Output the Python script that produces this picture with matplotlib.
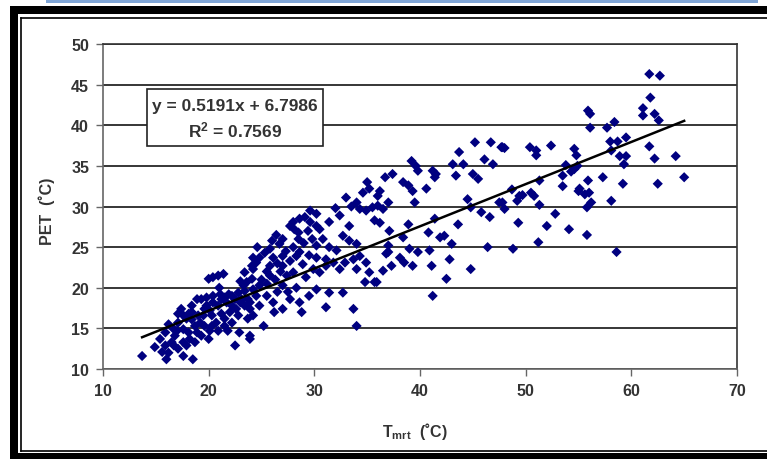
import numpy as np
import matplotlib
matplotlib.use("Agg")
import matplotlib.pyplot as plt
from matplotlib.patches import Rectangle

plt.rcParams['font.family'] = ['Liberation Sans', 'DejaVu Sans']
plt.rcParams['font.weight'] = 'bold'
plt.rcParams['mathtext.fontset'] = 'custom'
plt.rcParams['mathtext.rm'] = 'Liberation Sans:bold'
plt.rcParams['mathtext.it'] = 'Liberation Sans:italic:bold'
plt.rcParams['mathtext.bf'] = 'Liberation Sans:bold'

# Tmrt / PET pairs (deg C)
tmrt = [
    13.7, 14.9, 15.4, 16.0, 16.2, 16.5, 16.8, 17.6, 17.9, 18.5, 18.7, 16.2, 17.1, 17.6, 18.1, 18.4,
    19.0, 19.3, 20.0, 20.1, 19.6, 20.3, 20.7, 21.2, 21.5, 21.8, 22.5, 22.9, 20.0, 20.4, 20.9, 21.4,
    19.3, 19.8, 20.4, 21.1, 21.5, 22.2, 22.6, 23.1, 23.4, 23.7, 23.9, 23.7, 23.9, 23.4, 24.1, 24.2,
    17.6, 17.0, 15.9, 18.4, 18.9, 18.1,
    16.7, 17.1, 17.4, 17.9, 18.4, 18.7, 19.2, 19.5, 19.8, 20.1, 20.4, 20.9, 21.2, 21.7, 21.9, 22.2,
    22.5, 22.8, 23.0, 23.3, 23.6, 24.1, 24.2, 23.4, 22.8, 22.2, 21.5, 20.9, 20.3, 19.6, 18.9, 18.2,
    17.6, 17.1, 16.7, 15.9, 15.6,
    36.8, 35.9,
    29.6, 30.2, 29.1, 28.6, 28.0, 27.7, 28.1, 29.6, 30.2, 30.5, 29.4, 31.4, 32.4, 33.3, 32.7, 33.3,
    34.0, 33.0, 34.0, 34.6, 35.2, 34.3, 34.9, 35.5, 36.0, 25.8, 26.7, 26.1, 27.0, 27.7, 27.0, 28.3,
    28.6, 28.9, 28.0, 27.4, 29.2, 29.9, 30.5, 31.1, 31.1, 31.8, 32.4, 32.9, 32.1, 31.4, 30.2, 30.2,
    33.7, 34.3, 34.0, 34.9, 35.2, 34.8, 27.0, 28.3, 28.6, 30.2, 31.4, 32.7, 31.1, 33.7, 34.0, 25.8,
    24.8, 25.5, 26.1, 27.0, 27.7, 24.8, 24.2, 25.2, 23.9, 24.5, 24.8, 24.2, 23.9, 25.8,
    25.0, 25.5, 26.3, 26.5, 26.8, 27.3, 26.0, 25.3, 24.6, 26.4, 27.0, 28.5, 29.0, 29.5, 28.0, 29.8,
    27.5, 26.2, 28.8, 29.5, 24.5,
    45.2, 46.7, 47.7, 43.7, 39.2, 39.6, 39.8, 41.2, 41.5, 41.4, 43.1, 44.1, 43.4, 45.0, 45.5, 46.1,
    46.9, 36.7, 37.4, 38.4, 38.9, 39.3, 40.6, 36.2, 39.5, 37.0, 36.0, 36.5, 35.7, 36.2, 44.5, 44.8,
    45.8, 46.6, 47.5, 38.9, 37.1, 41.4, 40.8, 43.6, 41.9, 42.3, 43.0, 42.8, 38.4, 37.0, 37.0, 39.0,
    39.8, 40.9, 38.1, 38.5, 39.3, 37.3, 41.1, 36.5, 35.7, 42.5, 44.8, 46.4, 41.2,
    61.7, 62.7, 61.8, 61.1, 61.1, 62.2, 62.6, 55.9, 56.1, 56.1, 57.7, 58.4, 58.0, 58.7, 58.1, 59.5,
    58.9, 59.5, 59.3, 61.7, 62.2, 64.2, 65.0, 62.5, 59.2, 57.3, 55.9, 55.1, 55.6, 56.0, 56.2, 55.8,
    58.1, 58.6, 55.8, 54.1, 52.8, 52.0, 51.2, 49.3, 48.8, 47.8, 48.0, 50.4, 51.0, 51.0, 52.4, 54.6,
    54.8, 53.8, 54.3, 54.6, 53.5, 53.5, 51.3, 54.9, 48.7, 49.4, 49.7, 49.2, 50.5, 50.8, 51.3, 47.8,
    48.0, 55.0,
    21.0, 22.0, 23.0, 25.5, 26.5, 28.5, 30.8, 32.0, 33.5, 35.0,
]
pet = [
    11.6, 12.7, 13.7, 11.2, 12.0, 13.3, 14.1, 11.6, 12.9, 11.2, 13.3, 15.5, 15.7, 14.9, 14.5, 16.1,
    16.6, 14.1, 13.7, 14.7, 17.4, 16.6, 15.7, 16.8, 15.3, 14.7, 12.9, 14.5, 21.1, 21.3, 21.5, 21.7,
    18.6, 18.8, 19.0, 19.2, 18.8, 17.8, 17.4, 18.6, 19.6, 18.6, 17.4, 16.2, 14.1, 21.9, 22.7, 23.7,
    16.6, 14.7, 14.5, 17.8, 18.6, 16.8,
    14.9, 16.8, 17.4, 16.2, 17.0, 15.3, 15.7, 16.6, 17.8, 17.2, 18.2, 17.8, 18.6, 18.2, 19.2, 19.0,
    18.6, 19.4, 18.2, 20.3, 20.7, 21.1, 19.8, 17.8, 16.6, 15.7, 16.2, 14.7, 15.3, 15.3, 14.5, 13.7,
    13.3, 12.5, 12.9, 12.9, 12.1,
    24.2, 20.7,
    29.5, 29.1, 28.7, 28.5, 28.1, 27.6, 27.2, 28.1, 27.6, 27.2, 27.0, 28.1, 28.9, 27.6, 26.4, 25.8,
    25.4, 31.1, 30.5, 31.7, 32.2, 29.7, 29.5, 29.9, 31.3, 24.8, 25.4, 23.7, 23.9, 23.3, 22.7, 23.9,
    24.4, 22.9, 21.9, 21.5, 21.3, 22.3, 21.9, 22.7, 23.5, 23.1, 22.3, 23.1, 24.6, 25.0, 23.7, 25.2,
    23.5, 23.9, 22.3, 23.1, 21.9, 20.7, 20.3, 20.0, 18.2, 19.8, 19.4, 19.4, 17.6, 17.4, 15.3, 21.5,
    20.3, 19.0, 18.2, 17.4, 18.6, 17.8, 16.6, 15.3, 18.2, 23.1, 23.7, 22.3, 13.7, 22.7,
    21.0, 20.5, 21.0, 19.5, 22.0, 24.5, 25.8, 24.3, 25.0, 26.5, 26.0, 26.0, 25.5, 24.0, 25.0, 26.0,
    19.5, 17.0, 17.0, 19.0, 19.0,
    37.9, 37.9, 37.3, 36.7, 35.6, 35.0, 34.4, 34.4, 34.0, 33.6, 35.2, 35.2, 33.8, 34.0, 33.4, 35.8,
    35.2, 33.6, 34.0, 33.0, 32.6, 31.9, 32.2, 31.9, 30.5, 30.5, 30.1, 29.7, 28.3, 28.0, 30.9, 29.9,
    29.3, 28.7, 30.5, 27.8, 27.0, 28.5, 26.8, 27.8, 26.2, 26.4, 25.4, 23.5, 26.2, 25.2, 24.4, 24.8,
    24.4, 24.6, 23.7, 23.1, 22.7, 22.7, 22.7, 22.1, 20.7, 21.1, 22.3, 25.0, 19.0,
    46.3, 46.1, 43.4, 42.1, 41.2, 41.4, 40.6, 41.8, 41.4, 39.7, 39.7, 40.4, 38.0, 38.0, 36.9, 38.5,
    36.2, 36.2, 35.2, 37.4, 35.9, 36.2, 33.6, 32.8, 32.8, 33.6, 33.2, 32.2, 31.5, 31.7, 30.5, 29.9,
    30.7, 24.4, 26.5, 27.2, 29.1, 27.6, 25.6, 28.0, 24.8, 37.3, 37.2, 37.3, 36.9, 36.3, 37.5, 37.1,
    36.3, 35.1, 34.3, 34.6, 33.8, 32.5, 33.2, 35.0, 32.1, 31.3, 31.4, 30.7, 31.7, 31.3, 30.2, 30.5,
    29.7, 31.9,
    20.0, 17.0, 20.8, 22.0, 23.0, 26.8, 26.0, 29.8, 30.0, 33.0,
]

slope = 0.5191
intercept = 6.7986
r2 = 0.7569

x_ticks = [10, 20, 30, 40, 50, 60, 70]
y_ticks = [10, 15, 20, 25, 30, 35, 40, 45, 50]

W, H = 767, 460
fig = plt.figure(figsize=(W / 100, H / 100), dpi=100)

# page decoration drawn in pixel coordinates
bg = fig.add_axes([0, 0, 1, 1])
bg.set_xlim(0, W)
bg.set_ylim(H, 0)
bg.axis('off')
bg.add_patch(Rectangle((46, 0), 712, 3.5, color='#7fa5d6', lw=0))
bg.add_patch(Rectangle((10, 7), W - 10, 7.5, color='black', lw=0))
bg.add_patch(Rectangle((10, 7), 7.5, H - 7, color='black', lw=0))
bg.add_patch(Rectangle((10, 454), W - 10, 6, color='black', lw=0))
bg.plot([21, W], [18.5, 18.5], color='black', lw=1.2)
bg.plot([21, 21], [18.5, 452], color='black', lw=1.2)
bg.plot([21, W], [452, 452], color='black', lw=1.2)

ax = fig.add_axes([103 / W, 1 - 370 / H, (737 - 103) / W, (370 - 45) / H])
ax.set_xlim(10, 70)
ax.set_ylim(10, 50)
ax.set_xticks(x_ticks)
ax.set_yticks(y_ticks)
ax.yaxis.grid(True, color='black', lw=1.1)
ax.set_axisbelow(True)
for side in ['top', 'right']:
    ax.spines[side].set_color('#333333')
for side in ['left', 'bottom']:
    ax.spines[side].set_color('#666666')
for sp in ax.spines.values():
    sp.set_linewidth(1.2)
ax.tick_params(direction='out', length=5, width=1, color='#666666',
               labelsize=11.5, labelcolor='#333333', pad=5)

ax.scatter(tmrt, pet, marker='D', s=27, color='#000080', edgecolors='none', zorder=3)

xs = np.array([min(tmrt), max(tmrt)])
ax.plot(xs, slope * xs + intercept, color='black', lw=1.8, zorder=4)

# equation box
ax.add_patch(Rectangle((147, 90), 176, 57, transform=bg.transData, facecolor='white',
                       edgecolor='#222222', lw=1.2, zorder=5, clip_on=False))
ax.text(235, 106, f'y = {slope}x + {intercept}', transform=bg.transData,
        ha='center', va='center', fontsize=12.5, color='#333333', zorder=6)
ax.text(235, 130, f'R$^2$ = {r2}', transform=bg.transData,
        ha='center', va='center', fontsize=12.5, color='#333333', zorder=6)

bg.text(47, 211, 'PET  (˚C)', rotation=90, ha='center', va='center',
        fontsize=11.5, color='#333333')
bg.text(415, 432, r'T$_{\mathrm{mrt}}$  (˚C)', ha='center', va='center',
        fontsize=11.5, color='#333333')

fig.savefig('out.png', dpi=100)
